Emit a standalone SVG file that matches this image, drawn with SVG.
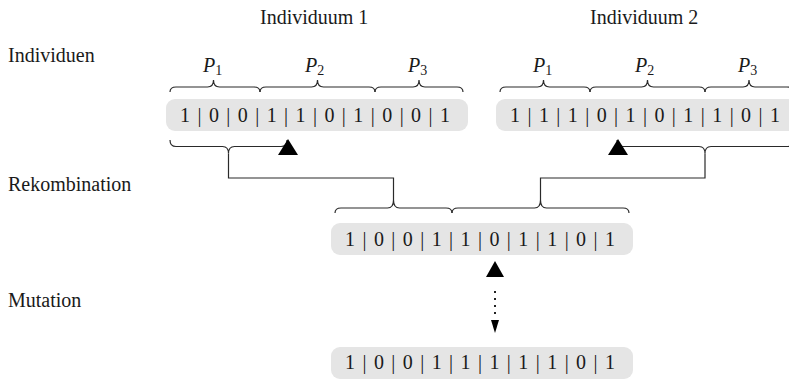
<svg xmlns="http://www.w3.org/2000/svg" width="789" height="379" viewBox="0 0 789 379">
<style>
text { font-family: 'Liberation Serif', 'DejaVu Serif', serif; fill: #1a1a1a; font-size: 20px; }
.bits { letter-spacing: 1.22px; }
.box { fill: #e5e5e5; }
.p { font-style: italic; }
.sub { font-size: 14px; font-style: normal; }
.br { fill: none; stroke: #2a2a2a; stroke-width: 1.2; }
.ln { fill: none; stroke: #2a2a2a; stroke-width: 1.2; }
.tri { fill: #000; }
</style>
<rect width="789" height="379" fill="#fff"/>
<g id="labels">
<text x="260" y="24">Individuum 1</text>
<text x="590" y="24">Individuum 2</text>
<text x="8" y="62">Individuen</text>
<text x="8" y="191">Rekombination</text>
<text x="8" y="307">Mutation</text>
</g>
<g id="individuum1">
<rect class="box" x="166" y="99" width="302" height="32" rx="9"/>
<text class="bits" x="180" y="122">1 | 0 | 0 | 1 | 1 | 0 | 1 | 0 | 0 | 1</text>
<text class="p" x="203" y="72">P<tspan class="sub" dy="3">1</tspan></text>
<text class="p" x="305" y="72">P<tspan class="sub" dy="3">2</tspan></text>
<text class="p" x="408" y="72">P<tspan class="sub" dy="3">3</tspan></text>
<path class="br" d="M170,92 Q170,87 176,87 L207.5,87 Q213.5,87 213.5,80 Q213.5,87 219.5,87 L254,87 Q260,87 260,92"/>
<path class="br" d="M260,92 Q260,87 266,87 L311.5,87 Q317.5,87 317.5,80 Q317.5,87 323.5,87 L369,87 Q375,87 375,92"/>
<path class="br" d="M375,92 Q375,87 381,87 L413,87 Q419,87 419,80 Q419,87 425,87 L457,87 Q463,87 463,92"/>
<path class="br" d="M170,140 Q170,146.5 176,146.5 L222.5,146.5 Q228.5,146.5 228.5,153.5 Q228.5,146.5 234.5,146.5 L281,146.5 Q287,146.5 287,140"/>
<polygon class="tri" points="288,139 278,155 298,155"/>
</g>
<g id="individuum2">
<rect class="box" x="496" y="99" width="302" height="32" rx="9"/>
<text class="bits" x="510" y="122">1 | 1 | 1 | 0 | 1 | 0 | 1 | 1 | 0 | 1</text>
<text class="p" x="533" y="72">P<tspan class="sub" dy="3">1</tspan></text>
<text class="p" x="635" y="72">P<tspan class="sub" dy="3">2</tspan></text>
<text class="p" x="738" y="72">P<tspan class="sub" dy="3">3</tspan></text>
<path class="br" d="M500,92 Q500,87 506,87 L537.5,87 Q543.5,87 543.5,80 Q543.5,87 549.5,87 L584,87 Q590,87 590,92"/>
<path class="br" d="M590,92 Q590,87 596,87 L641.5,87 Q647.5,87 647.5,80 Q647.5,87 653.5,87 L699,87 Q705,87 705,92"/>
<path class="br" d="M705,92 Q705,87 711,87 L743,87 Q749,87 749,80 Q749,87 755,87 L787,87 Q793,87 793,92"/>
<path class="br" d="M617,140 Q617,146.5 623,146.5 L699,146.5 Q705,146.5 705,153.5 Q705,146.5 711,146.5 L787,146.5 Q793,146.5 793,140"/>
<polygon class="tri" points="618,139 608,155 628,155"/>
</g>
<g id="rekombination">
<rect class="box" x="331" y="223" width="302" height="32" rx="9"/>
<text class="bits" x="345" y="246">1 | 0 | 0 | 1 | 1 | 0 | 1 | 1 | 0 | 1</text>
<path class="br" d="M335,213 Q335,208 341,208 L387.5,208 Q393.5,208 393.5,200 Q393.5,208 399.5,208 L446,208 Q452,208 452,213"/>
<path class="br" d="M452,213 Q452,208 458,208 L534.5,208 Q540.5,208 540.5,200 Q540.5,208 546.5,208 L623,208 Q629,208 629,213"/>
<polygon class="tri" points="495,261 486,277 504,277"/>
</g>
<g id="mutation">
<rect class="box" x="331" y="347" width="302" height="32" rx="9"/>
<text class="bits" x="345" y="369">1 | 0 | 0 | 1 | 1 | 1 | 1 | 1 | 0 | 1</text>
</g>
<g id="connectors">
<path class="ln" d="M228.5,153.5 V178 H393.5 V200"/>
<path class="ln" d="M705,153.5 V178 H540.5 V200"/>
<line x1="495" y1="291" x2="495" y2="318" stroke="#222" stroke-width="2" stroke-dasharray="2 5"/>
<polygon class="tri" points="491,320 499,320 495,333"/>
</g>
</svg>
